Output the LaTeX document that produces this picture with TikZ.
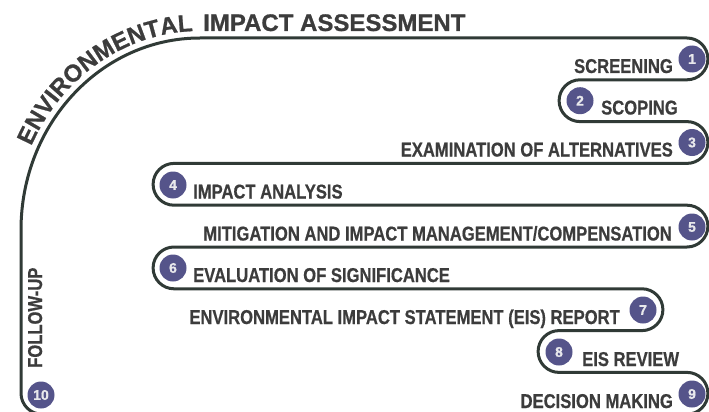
\documentclass[tikz,border=0pt]{standalone}
\usepackage{fontspec}
\setmainfont{Liberation Sans}
\newfontfamily\condfont{Liberation Sans}[UprightFont={* Bold}, FakeStretch=0.83, FakeBold=0.6]
\newfontfamily\titlefont{Liberation Sans}[UprightFont={* Bold}, FakeBold=0.8]
\usetikzlibrary{decorations.text}
\definecolor{pathcol}{RGB}{48,58,54}
\definecolor{badgecol}{RGB}{85,84,138}
\definecolor{numcol}{RGB}{232,232,236}
\definecolor{txtcol}{RGB}{60,60,60}
\tikzset{
  pathline/.style={draw=pathcol, line width=3pt},
  badge/.style={circle, fill=badgecol, minimum size=27pt, inner sep=0pt,
    text=numcol, font=\titlefont\fontsize{14}{14}\selectfont},
  steptext/.style={text=txtcol, inner sep=0pt, font=\condfont\fontsize{20}{20}\selectfont},
  ltext/.style={steptext, anchor=base west},
  rtext/.style={steptext, anchor=base east},
}
\begin{document}
\begin{tikzpicture}[x=1pt,y=-1pt]
\useasboundingbox (0,0) rectangle (709,412);
\clip (0,0) rectangle (709,412);
\draw[pathline] (21,230) arc[start angle=180, end angle=270, x radius=179, y radius=192]
  -- (687,38) arc[start angle=-90, end angle=90, radius=20.9]
  -- (580,79.8) arc[start angle=270, end angle=90, radius=20.9]
  -- (687,121.6) arc[start angle=-90, end angle=90, radius=20.9]
  -- (174,163.4) arc[start angle=270, end angle=90, radius=20.9]
  -- (687,205.2) arc[start angle=-90, end angle=90, radius=20.9]
  -- (174,247) arc[start angle=270, end angle=90, radius=20.9]
  -- (642,288.8) arc[start angle=-90, end angle=90, radius=20.9]
  -- (559,330.6) arc[start angle=270, end angle=90, radius=20.9]
  -- (687,372.4) arc[start angle=-90, end angle=90, radius=20.9]
  -- (42,414.2) arc[start angle=90, end angle=180, radius=21]
  -- cycle;
% curved title
\path[decorate, decoration={text along path, text align={right, right indent=7pt},
  text={|\titlefont\fontsize{24}{24}\selectfont\color{txtcol}|ENVIRONMENTAL}}]
  (14,230) arc[start angle=180, end angle=270, x radius=186, y radius=199];
\node[anchor=base west, inner sep=0pt, text=txtcol, font=\titlefont\fontsize{24}{24}\selectfont]
  (title) at (203,31) {IMPACT ASSESSMENT};
% badges
\node[badge] (b1) at (692,59) {1};
\node[badge] (b2) at (580,100.7) {2};
\node[badge] (b3) at (692,142.5) {3};
\node[badge] (b4) at (173,185) {4};
\node[badge] (b5) at (692,227) {5};
\node[badge] (b6) at (173,268) {6};
\node[badge] (b7) at (643,310) {7};
\node[badge] (b8) at (559,352) {8};
\node[badge] (b9) at (692,394) {9};
\node[badge] (b10) at (41,395) {10};
% labels
\node[rtext] (t1) at (673,73) {SCREENING};
\node[ltext] (t2) at (601,114.5) {SCOPING};
\node[rtext] (t3) at (673,156.5) {EXAMINATION OF ALTERNATIVES};
\node[ltext] (t4) at (193,198.5) {IMPACT ANALYSIS};
\node[rtext] (t5) at (672,240.5) {MITIGATION AND IMPACT MANAGEMENT/COMPENSATION};
\node[ltext] (t6) at (193,282) {EVALUATION OF SIGNIFICANCE};
\node[rtext] (t7) at (620,324) {ENVIRONMENTAL IMPACT STATEMENT (EIS) REPORT};
\node[ltext] (t8) at (582,366) {EIS REVIEW};
\node[rtext] (t9) at (673,408) {DECISION MAKING};
\node[steptext, anchor=base west, rotate=90] (t10) at (42,368) {FOLLOW-UP};
\end{tikzpicture}
\end{document}
